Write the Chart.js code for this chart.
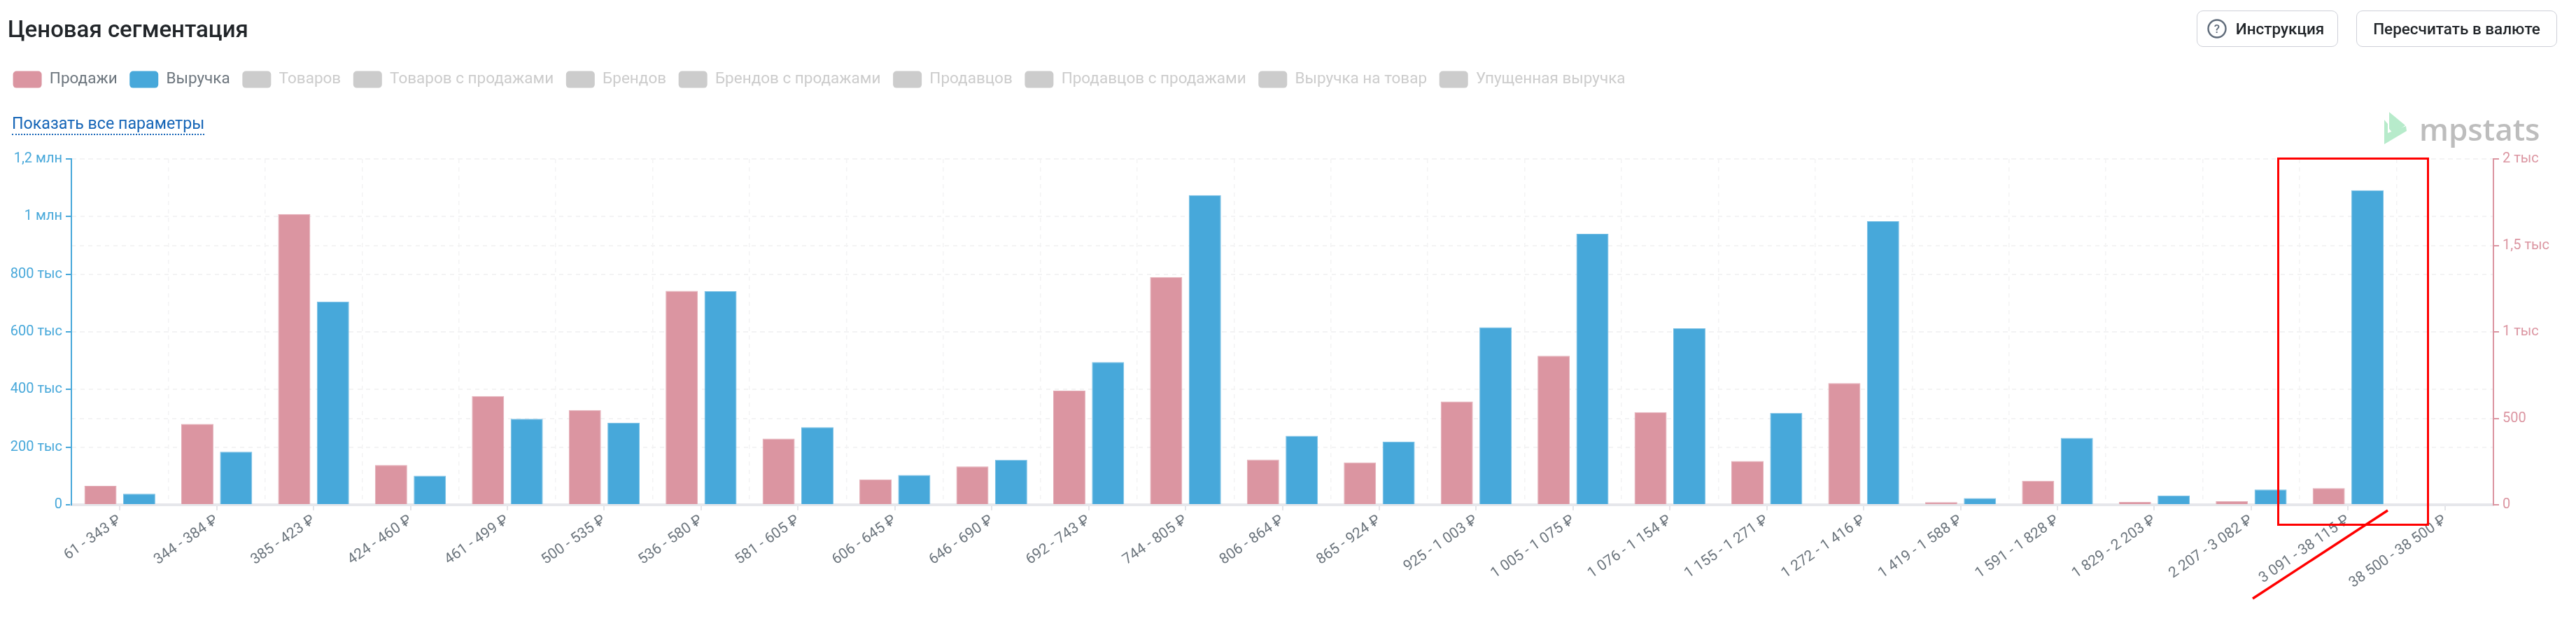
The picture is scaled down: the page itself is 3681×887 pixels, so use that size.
<!DOCTYPE html>
<html lang="ru">
<head>
<meta charset="utf-8">
<title>Ценовая сегментация</title>
<script src="https://cdn.jsdelivr.net/npm/chart.js@4/dist/chart.umd.min.js"></script>
<style>
  html, body { margin: 0; padding: 0; background: #fff; }
  body { width: 3681px; height: 887px; position: relative; overflow: hidden; font-family: Roboto, sans-serif; }
  #chart { position: absolute; left: 0; top: 0; }
  .title { position: absolute; left: 11px; top: 20px; font-size: 33px; line-height: 44px; font-weight: 500; color: #212529; }
  .btn { position: absolute; top: 15px; height: 50px; border: 1px solid #ced0d8; border-radius: 9px; box-sizing: content-box;
         font-size: 22.5px; font-weight: 500; line-height: 50px; color: #212529; text-align: center; }
  #btn1 { left: 3139px; width: 200px; }
  #btn1 span { margin-left: 36px; }
  #btn2 { left: 3367px; width: 285px; }
  .help { position: absolute; left: 14px; top: 11px; }
  .link { position: absolute; left: 17px; top: 162px; font-size: 23.2px; line-height: 29px; color: #1565b7;
          border-bottom: 2px dotted #1565b7; }
  .logo { position: absolute; left: 3405px; top: 155px; }
  .logotext { position: absolute; left: 3457px; top: 152px; font-family: "Open Sans", sans-serif; font-size: 44px; line-height: 64px; font-weight: 600; color: #bdbdbd; }
  .mark { position: absolute; left: 3254px; top: 225px; width: 211px; height: 520px; border: 3px solid #f00; }
  .slash { position: absolute; left: 0; top: 0; }
</style>
</head>
<body>
<canvas id="chart" width="3681" height="887"></canvas>
<div class="title">Ценовая сегментация</div>
<div class="btn" id="btn1">
  <svg class="help" width="28" height="28" viewBox="0 0 28 28"><circle cx="14" cy="14" r="12.5" fill="none" stroke="#5f6b7a" stroke-width="2.4"/><text x="14" y="20" font-size="17" text-anchor="middle" fill="#5f6b7a" font-family="Roboto">?</text></svg>
  <span>Инструкция</span>
</div>
<div class="btn" id="btn2">Пересчитать в валюте</div>
<div class="link">Показать все параметры</div>
<svg class="logo" width="36" height="52" viewBox="0 0 36 52">
  <polygon points="9,5 32,24 15,36 9,29" fill="#b7ebcb"/>
  <polygon points="2,16 7,22 7,35 33,25 34,32 2,51" fill="#b7ebcb"/>
</svg>
<div class="logotext">mpstats</div>
<div class="mark"></div>
<svg class="slash" width="3681" height="887"><line x1="3219" y1="855" x2="3412" y2="729" stroke="#f00" stroke-width="3.5"/></svg>

<script>
const categories = ["61 - 343 ₽", "344 - 384 ₽", "385 - 423 ₽", "424 - 460 ₽", "461 - 499 ₽", "500 - 535 ₽", "536 - 580 ₽", "581 - 605 ₽", "606 - 645 ₽", "646 - 690 ₽", "692 - 743 ₽", "744 - 805 ₽", "806 - 864 ₽", "865 - 924 ₽", "925 - 1 003 ₽", "1 005 - 1 075 ₽", "1 076 - 1 154 ₽", "1 155 - 1 271 ₽", "1 272 - 1 416 ₽", "1 419 - 1 588 ₽", "1 591 - 1 828 ₽", "1 829 - 2 203 ₽", "2 207 - 3 082 ₽", "3 091 - 38 115 ₽", "38 500 - 38 500 ₽"];
const sales = [109, 468, 1681, 230, 629, 548, 1237, 383, 147, 222, 660, 1317, 261, 245, 597, 861, 535, 253, 703, 15, 139, 16, 20, 96, 0];
const revenue = [38000, 184000, 705000, 101000, 298000, 285000, 741000, 269000, 103500, 156000, 495000, 1074000, 239000, 219000, 616000, 940000, 612000, 319000, 984000, 23000, 232000, 32000, 53000, 1091000, 0];
const activeLegend = ["Продажи", "Выручка"];
const mutedLegend = ["Товаров", "Товаров с продажами", "Брендов", "Брендов с продажами", "Продавцов", "Продавцов с продажами", "Выручка на товар", "Упущенная выручка"];

const pink = "#db95a1";
const blue = "#47a8da";
const gridColor = "#f3f3f4";
const tickFont = { family: "Roboto", size: 20 };

// money format as on the site: 800 тыс, 1,2 млн
function shortNum(v) {
  if (v >= 1000000) return String(v / 1000000).replace(".", ",") + " млн";
  if (v >= 1000) return String(v / 1000).replace(".", ",") + " тыс";
  return String(v);
}

function legendItems() {
  const items = [];
  activeLegend.forEach(function (name, i) {
    items.push({ text: name, fillStyle: i == 0 ? pink : blue, strokeStyle: "transparent", lineWidth: 0, fontColor: "#6c757d", borderRadius: 5 });
  });
  mutedLegend.forEach(function (name) {
    items.push({ text: name, fillStyle: "#cccccc", strokeStyle: "transparent", lineWidth: 0, fontColor: "#cccccc", borderRadius: 5 });
  });
  return items;
}

// legend box has to leave room for the link above the plot
const legendRoom = {
  id: "legendRoom",
  beforeLayout(chart) {
    const legend = chart.legend;
    if (legend.roomAdded) return;
    const fit = legend.fit;
    legend.fit = function () {
      fit.call(this);
      this.height = 143;
    };
    legend.roomAdded = true;
  }
};

new Chart(document.getElementById("chart"), {
  type: "bar",
  data: {
    labels: categories,
    datasets: [
      { label: activeLegend[0], data: sales, yAxisID: "y1", backgroundColor: pink, borderColor: "#e3abb5", borderWidth: 1 },
      { label: activeLegend[1], data: revenue, yAxisID: "y", backgroundColor: blue, borderColor: "#73bde3", borderWidth: 1 }
    ]
  },
  options: {
    responsive: false,
    animation: false,
    devicePixelRatio: 1,
    categoryPercentage: 0.8,
    barPercentage: 0.83,
    layout: { padding: { left: 1, top: 84, right: 0, bottom: 0 } },
    plugins: {
      tooltip: { enabled: false },
      legend: {
        align: "start",
        onClick: null,
        labels: {
          boxWidth: 41, boxHeight: 24, padding: 17.6, useBorderRadius: true, borderRadius: 5,
          font: { family: "Roboto", size: 22.5 },
          generateLabels: legendItems
        }
      }
    },
    scales: {
      x: {
        offset: true,
        grid: { offset: false, drawOnChartArea: false, tickColor: "#e4e5e9", tickLength: 8, lineWidth: 2 },
        border: { color: "#e6e7eb", width: 4 },
        ticks: { color: "#6c757d", font: { family: "Roboto", size: 21 }, autoSkip: false, minRotation: 35, maxRotation: 35, padding: 2 },
        afterFit(scale) { scale.height = 166; }
      },
      // only for the dashed lines between the categories
      x2: {
        axis: "x",
        type: "category",
        position: "top",
        labels: categories,
        offset: true,
        grid: { offset: true, color: gridColor, lineWidth: 1.5, drawTicks: false },
        border: { display: false, dash: [6, 6] },
        ticks: { display: false },
        afterFit(scale) { scale.height = 0; }
      },
      y: {
        position: "left",
        min: 0,
        max: 1200000,
        grid: { color: gridColor, lineWidth: 2, tickColor: blue, tickLength: 8 },
        border: { color: blue, width: 2, dash: [6, 6] },
        ticks: { stepSize: 200000, color: blue, font: tickFont, padding: 5, callback: shortNum },
        afterFit(scale) { scale.width = 101; }
      },
      y1: {
        position: "right",
        min: 0,
        max: 2000,
        grid: { color: gridColor, lineWidth: 2, tickColor: pink, tickLength: 8 },
        border: { color: pink, width: 2, dash: [6, 6] },
        ticks: { stepSize: 500, color: pink, font: tickFont, padding: 5, callback: shortNum },
        afterFit(scale) { scale.width = 118; }
      }
    }
  },
  plugins: [legendRoom]
});
</script>
</body>
</html>
